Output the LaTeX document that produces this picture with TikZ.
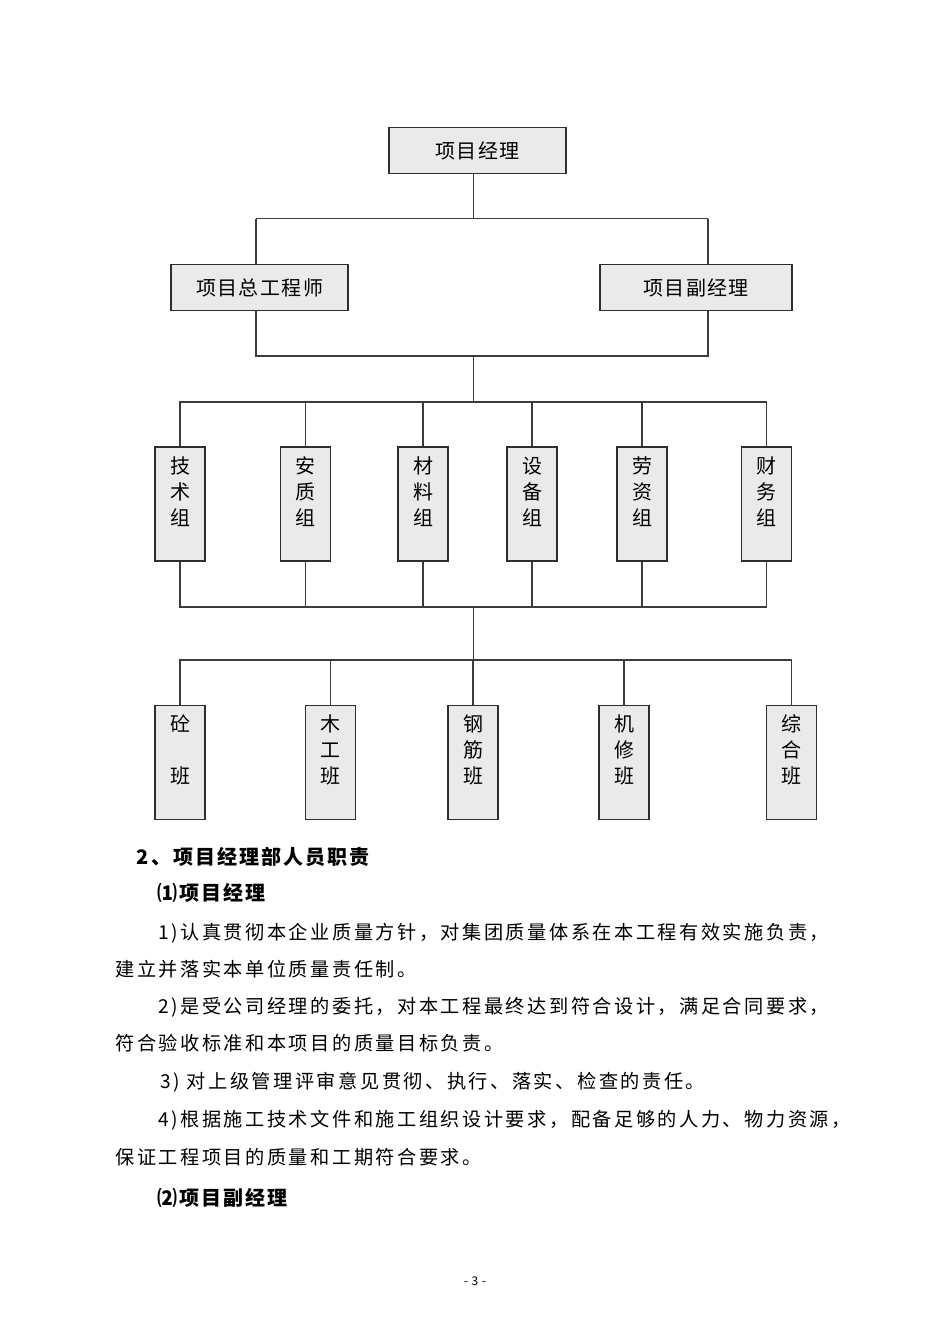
\documentclass[tikz,border=0pt]{standalone}
\usepackage{fontspec}
\usepackage{tikz}
\usetikzlibrary{positioning}
\newfontfamily\cjk[LetterSpace=7]{Noto Sans CJK SC}
\newfontfamily\cjkbody[LetterSpace=13]{Noto Sans CJK SC}
\newfontfamily\cjkhead[LetterSpace=10]{Noto Sans CJK SC}
\newcommand{\boxfont}{\cjk\fontsize{10pt}{13pt}\selectfont}
\newcommand{\bodyfont}{\cjkbody\fontsize{9.6pt}{12pt}\selectfont}
\newcommand{\headfont}{\cjkhead\bfseries\fontsize{10pt}{12pt}\selectfont}
\definecolor{boxfill}{HTML}{EAEAEA}
\definecolor{boxline}{HTML}{2E2E2E}
\definecolor{wire}{HTML}{3C3C3C}
\tikzstyle{box} = [rectangle, draw=boxline, fill=boxfill, line width=0.7pt, inner sep=0pt, minimum height=23pt, text centered, font=\boxfont]
\tikzstyle{vbox} = [box, minimum width=25pt, minimum height=57pt, align=center]
\tikzstyle{line} = [draw=wire, line width=0.55pt]
\tikzstyle{para} = [anchor=west, inner sep=0pt, font=\bodyfont]
\tikzstyle{head} = [anchor=west, inner sep=0pt, font=\headfont]

\begin{document}
\begin{tikzpicture}[x=0.5pt, y=-0.5pt]
        \useasboundingbox (0,0) rectangle (950,1344);

		\node(pm)     [box, minimum width=88.5pt] at (477.5,150.5) {项目经理};
		\node(chief)  [box, minimum width=88.5pt] at (259.5,287.5) {项目总工程师};
		\node(deputy) [box, minimum width=96pt]   at (696,287.5)   {项目副经理};

		\node(g1) [vbox] at (180,504)   {技\\术\\组\\ \mbox{}};
		\node(g2) [vbox] at (305.5,504) {安\\质\\组\\ \mbox{}};
		\node(g3) [vbox] at (423,504)   {材\\料\\组\\ \mbox{}};
		\node(g4) [vbox] at (532,504)   {设\\备\\组\\ \mbox{}};
		\node(g5) [vbox] at (642,504)   {劳\\资\\组\\ \mbox{}};
		\node(g6) [vbox] at (766.5,504) {财\\务\\组\\ \mbox{}};

		\node(t1) [vbox] at (180,762.5)   {砼\\ \mbox{}\\班\\ \mbox{}};
		\node(t2) [vbox] at (330.5,762.5) {木\\工\\班\\ \mbox{}};
		\node(t3) [vbox] at (473,762.5)   {钢\\筋\\班\\ \mbox{}};
		\node(t4) [vbox] at (624,762.5)   {机\\修\\班\\ \mbox{}};
		\node(t5) [vbox] at (791.5,762.5) {综\\合\\班\\ \mbox{}};

		% junctions
		\coordinate (j1) at (473.5,218.5);
		\coordinate (ja) at (256,218.5);
		\coordinate (jb) at (708,218.5);
		\coordinate (jc) at (256,356);
		\coordinate (jd) at (708,356);
		\coordinate (j2) at (473.5,356);
		\coordinate (j3) at (473.5,402);
		\coordinate (j4) at (473.5,607);
		\coordinate (j5) at (473.5,660);

		 % Draw edges
		 \path [line] (j1 |- pm.south) -- (j1);
		 \path [line] (ja) -- (jb);
		 \path [line] (ja) -- (ja |- chief.north);
		 \path [line] (jb) -- (jb |- deputy.north);
		 \path [line] (jc |- chief.south) -- (jc) -- (jd) -- (jd |- deputy.south);
		 \path [line] (j2) -- (j3);
		 \path [line] (j3) -| (g1);
		 \path [line] (j3) -| (g2);
		 \path [line] (j3) -| (g3);
		 \path [line] (j3) -| (g4);
		 \path [line] (j3) -| (g5);
		 \path [line] (j3) -| (g6);
		 \path [line] (g1) |- (j4);
		 \path [line] (g2) |- (j4);
		 \path [line] (g3) |- (j4);
		 \path [line] (g4) |- (j4);
		 \path [line] (g5) |- (j4);
		 \path [line] (g6) |- (j4);
		 \path [line] (j4) -- (j5);
		 \path [line] (j5) -| (t1);
		 \path [line] (j5) -| (t2);
		 \path [line] (j5) -| (t3);
		 \path [line] (j5) -| (t4);
		 \path [line] (j5) -| (t5);

		% text below the chart
		\node(h2)  [head] at (136.5,857) {2、项目经理部人员职责};
		\node(s1)  [head] at (157,893)   {⑴项目经理};
		\node(p1)  [para] at (158,933)   {1)认真贯彻本企业质量方针，对集团质量体系在本工程有效实施负责，};
		\node(p1b) [para] at (115,969)   {建立并落实本单位质量责任制。};
		\node(p2)  [para] at (158,1007)  {2)是受公司经理的委托，对本工程最终达到符合设计，满足合同要求，};
		\node(p2b) [para] at (115,1043)  {符合验收标准和本项目的质量目标负责。};
		\node(p3)  [para] at (160,1082)  {3) 对上级管理评审意见贯彻、执行、落实、检查的责任。};
		\node(p4)  [para] at (158,1120)  {4)根据施工技术文件和施工组织设计要求，配备足够的人力、物力资源，};
		\node(p4b) [para] at (115,1157)  {保证工程项目的质量和工期符合要求。};
		\node(s2)  [head] at (157,1198)  {⑵项目副经理};
		\node(pg)  [inner sep=0pt, font=\cjk\fontsize{6pt}{7pt}\selectfont] at (475,1281) {- 3 -};

\end{tikzpicture}
\end{document}
